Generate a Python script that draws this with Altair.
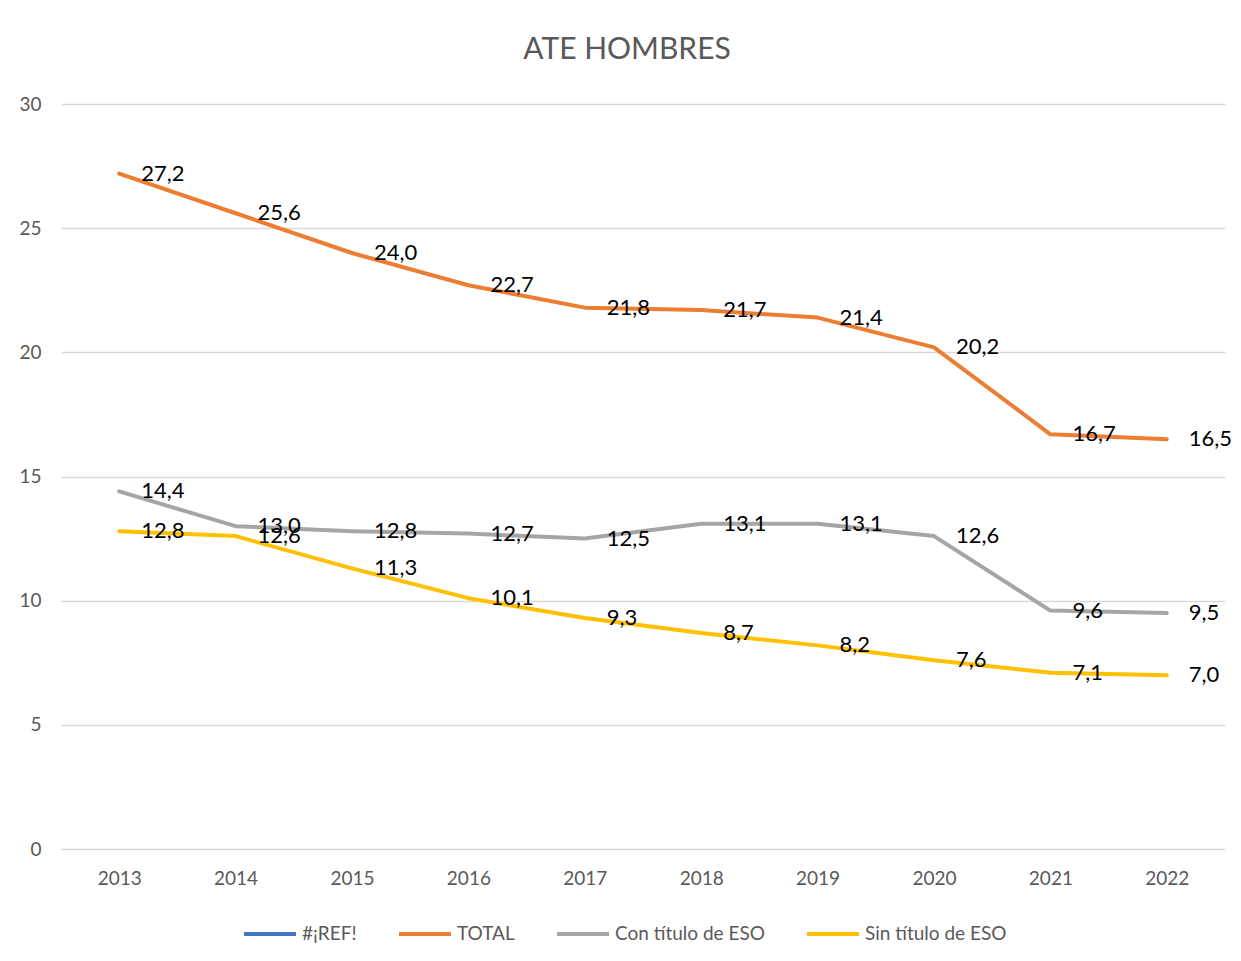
import altair as alt
import pandas as pd

years = [2013, 2014, 2015, 2016, 2017, 2018, 2019, 2020, 2021, 2022]
total = [27.2, 25.6, 24.0, 22.7, 21.8, 21.7, 21.4, 20.2, 16.7, 16.5]
con_titulo = [14.4, 13.0, 12.8, 12.7, 12.5, 13.1, 13.1, 12.6, 9.6, 9.5]
sin_titulo = [12.8, 12.6, 11.3, 10.1, 9.3, 8.7, 8.2, 7.6, 7.1, 7.0]

series_names = ["#¡REF!", "TOTAL", "Con título de ESO", "Sin título de ESO"]
series_colors = ["#4472C4", "#ED7D31", "#A5A5A5", "#FFC000"]

rows = []
for name, vals in [("TOTAL", total), ("Con título de ESO", con_titulo), ("Sin título de ESO", sin_titulo)]:
    for y, v in zip(years, vals):
        rows.append({"year": str(y), "value": v, "serie": name,
                     "label": f"{v:.1f}".replace(".", ",")})
df = pd.DataFrame(rows)

font = "Lato"

x = alt.X("year:O", title=None,
          scale=alt.Scale(type="point", padding=0.5),
          axis=alt.Axis(labelAngle=0, ticks=False, domain=False, grid=False,
                        labelPadding=20, labelFontSize=19, labelColor="#595959",
                        labelFont=font))
y = alt.Y("value:Q", title=None,
          scale=alt.Scale(domain=[0, 30], nice=False),
          axis=alt.Axis(values=[0, 5, 10, 15, 20, 25, 30], ticks=False, domain=False,
                        grid=True, gridColor="#D9D9D9", gridWidth=1.5,
                        labelPadding=20, labelFontSize=19, labelColor="#595959",
                        labelFont=font))

lines = alt.Chart(df).mark_line(strokeWidth=4, strokeCap="round", strokeJoin="round").encode(
    x=x, y=y,
    color=alt.Color("serie:N", title=None,
                    scale=alt.Scale(domain=series_names, range=series_colors),
                    sort=series_names,
                    legend=alt.Legend(orient="none", direction="horizontal",
                                      legendX=181, legendY=802,
                                      symbolType="stroke", symbolStrokeWidth=4,
                                      symbolSize=2700, labelFontSize=19,
                                      labelColor="#595959", labelFont=font,
                                      columnPadding=34, labelOffset=4)),
    detail="serie:N",
)

labels = alt.Chart(df).mark_text(align="left", baseline="middle", dx=22,
                                 fontSize=22, font=font, color="#000000").encode(
    x=x, y=y, text="label:N"
)

chart = alt.layer(lines, labels).properties(
    width=1164, height=745,
    title=alt.TitleParams("ATE HOMBRES", fontSize=30, fontWeight="normal",
                          color="#595959", font=font, offset=30, dx=-16),
    autosize=alt.AutoSizeParams(type="none"),
    padding={"left": 53, "top": 96, "right": 8, "bottom": 100},
).configure_view(stroke=None)

chart.save("out.html", embed_options={"renderer": "svg", "actions": False})
